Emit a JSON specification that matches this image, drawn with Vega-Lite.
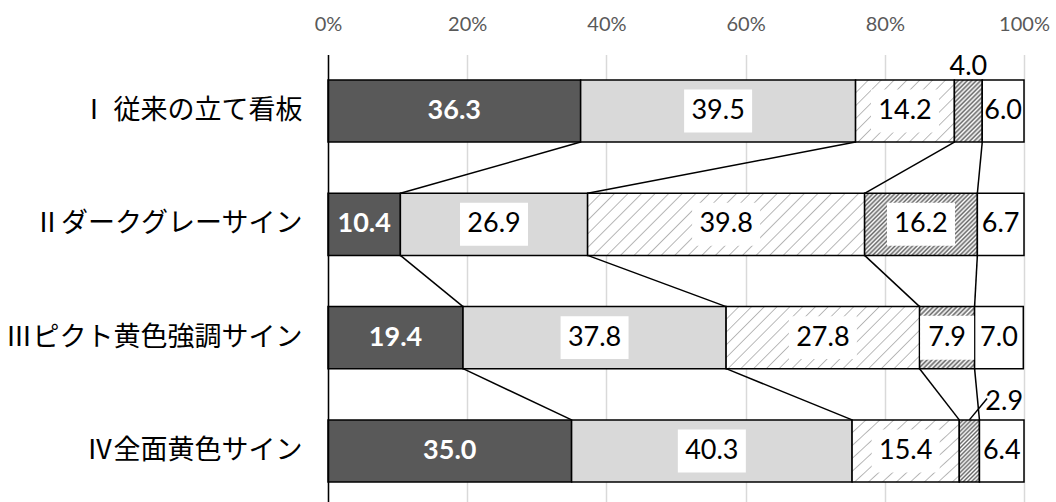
{
  "$schema": "https://vega.github.io/schema/vega-lite/v6.json",
  "width": 696,
  "height": 447.6,
  "autosize": {"type": "none"},
  "padding": {"left": 328, "top": 54.4, "right": 32, "bottom": 0},
  "background": "white",
  "config": {"view": {"stroke": null}},
  "data": {
    "values": [
      {"cat": "Ⅰ 従来の立て看板", "level": 1, "v": 36.3},
      {"cat": "Ⅰ 従来の立て看板", "level": 2, "v": 39.5},
      {"cat": "Ⅰ 従来の立て看板", "level": 3, "v": 14.2},
      {"cat": "Ⅰ 従来の立て看板", "level": 4, "v": 4.0},
      {"cat": "Ⅰ 従来の立て看板", "level": 5, "v": 6.0},
      {"cat": "Ⅱダークグレーサイン", "level": 1, "v": 10.4},
      {"cat": "Ⅱダークグレーサイン", "level": 2, "v": 26.9},
      {"cat": "Ⅱダークグレーサイン", "level": 3, "v": 39.8},
      {"cat": "Ⅱダークグレーサイン", "level": 4, "v": 16.2},
      {"cat": "Ⅱダークグレーサイン", "level": 5, "v": 6.7},
      {"cat": "Ⅲピクト黄色強調サイン", "level": 1, "v": 19.4},
      {"cat": "Ⅲピクト黄色強調サイン", "level": 2, "v": 37.8},
      {"cat": "Ⅲピクト黄色強調サイン", "level": 3, "v": 27.8},
      {"cat": "Ⅲピクト黄色強調サイン", "level": 4, "v": 7.9},
      {"cat": "Ⅲピクト黄色強調サイン", "level": 5, "v": 7.0},
      {"cat": "Ⅳ全面黄色サイン", "level": 1, "v": 35.0},
      {"cat": "Ⅳ全面黄色サイン", "level": 2, "v": 40.3},
      {"cat": "Ⅳ全面黄色サイン", "level": 3, "v": 15.4},
      {"cat": "Ⅳ全面黄色サイン", "level": 4, "v": 2.9},
      {"cat": "Ⅳ全面黄色サイン", "level": 5, "v": 6.4}
    ]
  },
  "transform": [
    {"stack": "v", "groupby": ["cat"], "sort": [{"field": "level", "order": "ascending"}], "as": ["x0", "x1"]},
    {"calculate": "(datum.x0 + datum.x1) / 2", "as": "mid"}
  ],
  "layer": [
    {
      "mark": {"type": "bar", "stroke": "black", "strokeWidth": 1.5},
      "encoding": {
        "y": {
          "field": "cat",
          "type": "nominal",
          "scale": {
            "domain": ["Ⅰ 従来の立て看板", "Ⅱダークグレーサイン", "Ⅲピクト黄色強調サイン", "Ⅳ全面黄色サイン"],
            "paddingInner": 0.452,
            "paddingOuter": 0.2014,
            "align": 0.561
          },
          "axis": {
            "title": null,
            "ticks": false,
            "grid": false,
            "domain": true,
            "domainColor": "black",
            "domainWidth": 1.5,
            "labelFont": "Noto Sans CJK JP",
            "labelFontSize": 27,
            "labelColor": "black",
            "labelPadding": 26,
            "labelLimit": 0,
            "zindex": 1
          }
        },
        "x": {
          "field": "x0",
          "type": "quantitative",
          "scale": {"domain": [0, 100], "nice": false},
          "axis": {
            "orient": "top",
            "title": null,
            "values": [0, 20, 40, 60, 80, 100],
            "labelExpr": "datum.value + '%'",
            "domain": false,
            "ticks": false,
            "grid": true,
            "gridColor": "#d9d9d9",
            "gridWidth": 1.5,
            "labelFont": "Lato",
            "labelFontSize": 20,
            "labelColor": "#595959",
            "labelPadding": 20,
            "labelFlush": false,
            "labelOverlap": false
          }
        },
        "x2": {"field": "x1"},
        "fill": {
          "condition": [
            {"test": "datum.level === 1", "value": "#595959"},
            {"test": "datum.level === 2", "value": "#d9d9d9"},
            {"test": "datum.level === 3 && (datum.cat === 'Ⅰ 従来の立て看板' || datum.cat === 'Ⅳ全面黄色サイン')",
             "value": {"gradient": "linear", "x1": 0, "y1": 0, "x2": 1.1677, "y2": 0.7328, "stops": [
              {"offset": 0, "color": "#b4b4b4"}, {"offset": 0.008, "color": "#fff"}, {"offset": 0.072, "color": "#fff"},
              {"offset": 0.08, "color": "#b4b4b4"}, {"offset": 0.088, "color": "#fff"}, {"offset": 0.152, "color": "#fff"},
              {"offset": 0.16, "color": "#b4b4b4"}, {"offset": 0.168, "color": "#fff"}, {"offset": 0.232, "color": "#fff"},
              {"offset": 0.24, "color": "#b4b4b4"}, {"offset": 0.248, "color": "#fff"}, {"offset": 0.312, "color": "#fff"},
              {"offset": 0.32, "color": "#b4b4b4"}, {"offset": 0.328, "color": "#fff"}, {"offset": 0.392, "color": "#fff"},
              {"offset": 0.4, "color": "#b4b4b4"}, {"offset": 0.408, "color": "#fff"}, {"offset": 0.472, "color": "#fff"},
              {"offset": 0.48, "color": "#b4b4b4"}, {"offset": 0.488, "color": "#fff"}, {"offset": 0.552, "color": "#fff"},
              {"offset": 0.56, "color": "#b4b4b4"}, {"offset": 0.568, "color": "#fff"}, {"offset": 0.632, "color": "#fff"},
              {"offset": 0.64, "color": "#b4b4b4"}, {"offset": 0.648, "color": "#fff"}, {"offset": 0.712, "color": "#fff"},
              {"offset": 0.72, "color": "#b4b4b4"}, {"offset": 0.728, "color": "#fff"}, {"offset": 0.792, "color": "#fff"},
              {"offset": 0.8, "color": "#b4b4b4"}, {"offset": 0.808, "color": "#fff"}, {"offset": 0.872, "color": "#fff"},
              {"offset": 0.88, "color": "#b4b4b4"}, {"offset": 0.888, "color": "#fff"}, {"offset": 0.952, "color": "#fff"},
              {"offset": 0.96, "color": "#b4b4b4"}, {"offset": 0.968, "color": "#fff"}, {"offset": 1, "color": "#fff"}]}},
            {"test": "datum.level === 3 && datum.cat === 'Ⅱダークグレーサイン'",
             "value": {"gradient": "linear", "x1": 0, "y1": 0, "x2": 1.1654, "y2": 0.2609, "stops": [
              {"offset": 0, "color": "#b4b4b4"}, {"offset": 0.004, "color": "#fff"}, {"offset": 0.036, "color": "#fff"},
              {"offset": 0.04, "color": "#b4b4b4"}, {"offset": 0.044, "color": "#fff"}, {"offset": 0.076, "color": "#fff"},
              {"offset": 0.08, "color": "#b4b4b4"}, {"offset": 0.084, "color": "#fff"}, {"offset": 0.116, "color": "#fff"},
              {"offset": 0.12, "color": "#b4b4b4"}, {"offset": 0.124, "color": "#fff"}, {"offset": 0.156, "color": "#fff"},
              {"offset": 0.16, "color": "#b4b4b4"}, {"offset": 0.164, "color": "#fff"}, {"offset": 0.196, "color": "#fff"},
              {"offset": 0.2, "color": "#b4b4b4"}, {"offset": 0.204, "color": "#fff"}, {"offset": 0.236, "color": "#fff"},
              {"offset": 0.24, "color": "#b4b4b4"}, {"offset": 0.244, "color": "#fff"}, {"offset": 0.276, "color": "#fff"},
              {"offset": 0.28, "color": "#b4b4b4"}, {"offset": 0.284, "color": "#fff"}, {"offset": 0.316, "color": "#fff"},
              {"offset": 0.32, "color": "#b4b4b4"}, {"offset": 0.324, "color": "#fff"}, {"offset": 0.356, "color": "#fff"},
              {"offset": 0.36, "color": "#b4b4b4"}, {"offset": 0.364, "color": "#fff"}, {"offset": 0.396, "color": "#fff"},
              {"offset": 0.4, "color": "#b4b4b4"}, {"offset": 0.404, "color": "#fff"}, {"offset": 0.436, "color": "#fff"},
              {"offset": 0.44, "color": "#b4b4b4"}, {"offset": 0.444, "color": "#fff"}, {"offset": 0.476, "color": "#fff"},
              {"offset": 0.48, "color": "#b4b4b4"}, {"offset": 0.484, "color": "#fff"}, {"offset": 0.516, "color": "#fff"},
              {"offset": 0.52, "color": "#b4b4b4"}, {"offset": 0.524, "color": "#fff"}, {"offset": 0.556, "color": "#fff"},
              {"offset": 0.56, "color": "#b4b4b4"}, {"offset": 0.564, "color": "#fff"}, {"offset": 0.596, "color": "#fff"},
              {"offset": 0.6, "color": "#b4b4b4"}, {"offset": 0.604, "color": "#fff"}, {"offset": 0.636, "color": "#fff"},
              {"offset": 0.64, "color": "#b4b4b4"}, {"offset": 0.644, "color": "#fff"}, {"offset": 0.676, "color": "#fff"},
              {"offset": 0.68, "color": "#b4b4b4"}, {"offset": 0.684, "color": "#fff"}, {"offset": 0.716, "color": "#fff"},
              {"offset": 0.72, "color": "#b4b4b4"}, {"offset": 0.724, "color": "#fff"}, {"offset": 0.756, "color": "#fff"},
              {"offset": 0.76, "color": "#b4b4b4"}, {"offset": 0.764, "color": "#fff"}, {"offset": 0.796, "color": "#fff"},
              {"offset": 0.8, "color": "#b4b4b4"}, {"offset": 0.804, "color": "#fff"}, {"offset": 0.836, "color": "#fff"},
              {"offset": 0.84, "color": "#b4b4b4"}, {"offset": 0.844, "color": "#fff"}, {"offset": 0.876, "color": "#fff"},
              {"offset": 0.88, "color": "#b4b4b4"}, {"offset": 0.884, "color": "#fff"}, {"offset": 0.916, "color": "#fff"},
              {"offset": 0.92, "color": "#b4b4b4"}, {"offset": 0.924, "color": "#fff"}, {"offset": 0.956, "color": "#fff"},
              {"offset": 0.96, "color": "#b4b4b4"}, {"offset": 0.964, "color": "#fff"}, {"offset": 0.996, "color": "#fff"},
              {"offset": 1, "color": "#b4b4b4"}]}},
            {"test": "datum.level === 3 && datum.cat === 'Ⅲピクト黄色強調サイン'",
             "value": {"gradient": "linear", "x1": 0, "y1": 0, "x2": 1.1975, "y2": 0.3837, "stops": [
              {"offset": 0, "color": "#b4b4b4"}, {"offset": 0.005, "color": "#fff"}, {"offset": 0.045, "color": "#fff"},
              {"offset": 0.05, "color": "#b4b4b4"}, {"offset": 0.055, "color": "#fff"}, {"offset": 0.095, "color": "#fff"},
              {"offset": 0.1, "color": "#b4b4b4"}, {"offset": 0.105, "color": "#fff"}, {"offset": 0.145, "color": "#fff"},
              {"offset": 0.15, "color": "#b4b4b4"}, {"offset": 0.155, "color": "#fff"}, {"offset": 0.195, "color": "#fff"},
              {"offset": 0.2, "color": "#b4b4b4"}, {"offset": 0.205, "color": "#fff"}, {"offset": 0.245, "color": "#fff"},
              {"offset": 0.25, "color": "#b4b4b4"}, {"offset": 0.255, "color": "#fff"}, {"offset": 0.295, "color": "#fff"},
              {"offset": 0.3, "color": "#b4b4b4"}, {"offset": 0.305, "color": "#fff"}, {"offset": 0.345, "color": "#fff"},
              {"offset": 0.35, "color": "#b4b4b4"}, {"offset": 0.355, "color": "#fff"}, {"offset": 0.395, "color": "#fff"},
              {"offset": 0.4, "color": "#b4b4b4"}, {"offset": 0.405, "color": "#fff"}, {"offset": 0.445, "color": "#fff"},
              {"offset": 0.45, "color": "#b4b4b4"}, {"offset": 0.455, "color": "#fff"}, {"offset": 0.495, "color": "#fff"},
              {"offset": 0.5, "color": "#b4b4b4"}, {"offset": 0.505, "color": "#fff"}, {"offset": 0.545, "color": "#fff"},
              {"offset": 0.55, "color": "#b4b4b4"}, {"offset": 0.555, "color": "#fff"}, {"offset": 0.595, "color": "#fff"},
              {"offset": 0.6, "color": "#b4b4b4"}, {"offset": 0.605, "color": "#fff"}, {"offset": 0.645, "color": "#fff"},
              {"offset": 0.65, "color": "#b4b4b4"}, {"offset": 0.655, "color": "#fff"}, {"offset": 0.695, "color": "#fff"},
              {"offset": 0.7, "color": "#b4b4b4"}, {"offset": 0.705, "color": "#fff"}, {"offset": 0.745, "color": "#fff"},
              {"offset": 0.75, "color": "#b4b4b4"}, {"offset": 0.755, "color": "#fff"}, {"offset": 0.795, "color": "#fff"},
              {"offset": 0.8, "color": "#b4b4b4"}, {"offset": 0.805, "color": "#fff"}, {"offset": 0.845, "color": "#fff"},
              {"offset": 0.85, "color": "#b4b4b4"}, {"offset": 0.855, "color": "#fff"}, {"offset": 0.895, "color": "#fff"},
              {"offset": 0.9, "color": "#b4b4b4"}, {"offset": 0.905, "color": "#fff"}, {"offset": 0.945, "color": "#fff"},
              {"offset": 0.95, "color": "#b4b4b4"}, {"offset": 0.955, "color": "#fff"}, {"offset": 0.995, "color": "#fff"},
              {"offset": 1, "color": "#b4b4b4"}]}},
            {"test": "datum.level === 4 && datum.cat === 'Ⅰ 従来の立て看板'",
             "value": {"gradient": "linear", "x1": 0, "y1": 0, "x2": 0.5407, "y2": 1.2059, "stops": [
              {"offset": 0, "color": "#666"}, {"offset": 0.025, "color": "#fff"}, {"offset": 0.05, "color": "#666"}, {"offset": 0.075, "color": "#fff"},
              {"offset": 0.1, "color": "#666"}, {"offset": 0.125, "color": "#fff"}, {"offset": 0.15, "color": "#666"}, {"offset": 0.175, "color": "#fff"},
              {"offset": 0.2, "color": "#666"}, {"offset": 0.225, "color": "#fff"}, {"offset": 0.25, "color": "#666"}, {"offset": 0.275, "color": "#fff"},
              {"offset": 0.3, "color": "#666"}, {"offset": 0.325, "color": "#fff"}, {"offset": 0.35, "color": "#666"}, {"offset": 0.375, "color": "#fff"},
              {"offset": 0.4, "color": "#666"}, {"offset": 0.425, "color": "#fff"}, {"offset": 0.45, "color": "#666"}, {"offset": 0.475, "color": "#fff"},
              {"offset": 0.5, "color": "#666"}, {"offset": 0.525, "color": "#fff"}, {"offset": 0.55, "color": "#666"}, {"offset": 0.575, "color": "#fff"},
              {"offset": 0.6, "color": "#666"}, {"offset": 0.625, "color": "#fff"}, {"offset": 0.65, "color": "#666"}, {"offset": 0.675, "color": "#fff"},
              {"offset": 0.7, "color": "#666"}, {"offset": 0.725, "color": "#fff"}, {"offset": 0.75, "color": "#666"}, {"offset": 0.775, "color": "#fff"},
              {"offset": 0.8, "color": "#666"}, {"offset": 0.825, "color": "#fff"}, {"offset": 0.85, "color": "#666"}, {"offset": 0.875, "color": "#fff"},
              {"offset": 0.9, "color": "#666"}, {"offset": 0.925, "color": "#fff"}, {"offset": 0.95, "color": "#666"}, {"offset": 0.975, "color": "#fff"},
              {"offset": 1, "color": "#666"}]}},
            {"test": "datum.level === 4 && datum.cat === 'Ⅳ全面黄色サイン'",
             "value": {"gradient": "linear", "x1": 0, "y1": 0, "x2": 0.3905, "y2": 1.1986, "stops": [
              {"offset": 0, "color": "#666"}, {"offset": 0.025, "color": "#fff"}, {"offset": 0.05, "color": "#666"}, {"offset": 0.075, "color": "#fff"},
              {"offset": 0.1, "color": "#666"}, {"offset": 0.125, "color": "#fff"}, {"offset": 0.15, "color": "#666"}, {"offset": 0.175, "color": "#fff"},
              {"offset": 0.2, "color": "#666"}, {"offset": 0.225, "color": "#fff"}, {"offset": 0.25, "color": "#666"}, {"offset": 0.275, "color": "#fff"},
              {"offset": 0.3, "color": "#666"}, {"offset": 0.325, "color": "#fff"}, {"offset": 0.35, "color": "#666"}, {"offset": 0.375, "color": "#fff"},
              {"offset": 0.4, "color": "#666"}, {"offset": 0.425, "color": "#fff"}, {"offset": 0.45, "color": "#666"}, {"offset": 0.475, "color": "#fff"},
              {"offset": 0.5, "color": "#666"}, {"offset": 0.525, "color": "#fff"}, {"offset": 0.55, "color": "#666"}, {"offset": 0.575, "color": "#fff"},
              {"offset": 0.6, "color": "#666"}, {"offset": 0.625, "color": "#fff"}, {"offset": 0.65, "color": "#666"}, {"offset": 0.675, "color": "#fff"},
              {"offset": 0.7, "color": "#666"}, {"offset": 0.725, "color": "#fff"}, {"offset": 0.75, "color": "#666"}, {"offset": 0.775, "color": "#fff"},
              {"offset": 0.8, "color": "#666"}, {"offset": 0.825, "color": "#fff"}, {"offset": 0.85, "color": "#666"}, {"offset": 0.875, "color": "#fff"},
              {"offset": 0.9, "color": "#666"}, {"offset": 0.925, "color": "#fff"}, {"offset": 0.95, "color": "#666"}, {"offset": 0.975, "color": "#fff"},
              {"offset": 1, "color": "#666"}]}},
            {"test": "datum.level === 4 && datum.cat === 'Ⅱダークグレーサイン'",
             "value": {"gradient": "linear", "x1": 0, "y1": 0, "x2": 1.1901, "y2": 0.6541, "stops": [
              {"offset": 0, "color": "#666"}, {"offset": 0.0125, "color": "#fff"}, {"offset": 0.025, "color": "#666"}, {"offset": 0.0375, "color": "#fff"},
              {"offset": 0.05, "color": "#666"}, {"offset": 0.0625, "color": "#fff"}, {"offset": 0.075, "color": "#666"}, {"offset": 0.0875, "color": "#fff"},
              {"offset": 0.1, "color": "#666"}, {"offset": 0.1125, "color": "#fff"}, {"offset": 0.125, "color": "#666"}, {"offset": 0.1375, "color": "#fff"},
              {"offset": 0.15, "color": "#666"}, {"offset": 0.1625, "color": "#fff"}, {"offset": 0.175, "color": "#666"}, {"offset": 0.1875, "color": "#fff"},
              {"offset": 0.2, "color": "#666"}, {"offset": 0.2125, "color": "#fff"}, {"offset": 0.225, "color": "#666"}, {"offset": 0.2375, "color": "#fff"},
              {"offset": 0.25, "color": "#666"}, {"offset": 0.2625, "color": "#fff"}, {"offset": 0.275, "color": "#666"}, {"offset": 0.2875, "color": "#fff"},
              {"offset": 0.3, "color": "#666"}, {"offset": 0.3125, "color": "#fff"}, {"offset": 0.325, "color": "#666"}, {"offset": 0.3375, "color": "#fff"},
              {"offset": 0.35, "color": "#666"}, {"offset": 0.3625, "color": "#fff"}, {"offset": 0.375, "color": "#666"}, {"offset": 0.3875, "color": "#fff"},
              {"offset": 0.4, "color": "#666"}, {"offset": 0.4125, "color": "#fff"}, {"offset": 0.425, "color": "#666"}, {"offset": 0.4375, "color": "#fff"},
              {"offset": 0.45, "color": "#666"}, {"offset": 0.4625, "color": "#fff"}, {"offset": 0.475, "color": "#666"}, {"offset": 0.4875, "color": "#fff"},
              {"offset": 0.5, "color": "#666"}, {"offset": 0.5125, "color": "#fff"}, {"offset": 0.525, "color": "#666"}, {"offset": 0.5375, "color": "#fff"},
              {"offset": 0.55, "color": "#666"}, {"offset": 0.5625, "color": "#fff"}, {"offset": 0.575, "color": "#666"}, {"offset": 0.5875, "color": "#fff"},
              {"offset": 0.6, "color": "#666"}, {"offset": 0.6125, "color": "#fff"}, {"offset": 0.625, "color": "#666"}, {"offset": 0.6375, "color": "#fff"},
              {"offset": 0.65, "color": "#666"}, {"offset": 0.6625, "color": "#fff"}, {"offset": 0.675, "color": "#666"}, {"offset": 0.6875, "color": "#fff"},
              {"offset": 0.7, "color": "#666"}, {"offset": 0.7125, "color": "#fff"}, {"offset": 0.725, "color": "#666"}, {"offset": 0.7375, "color": "#fff"},
              {"offset": 0.75, "color": "#666"}, {"offset": 0.7625, "color": "#fff"}, {"offset": 0.775, "color": "#666"}, {"offset": 0.7875, "color": "#fff"},
              {"offset": 0.8, "color": "#666"}, {"offset": 0.8125, "color": "#fff"}, {"offset": 0.825, "color": "#666"}, {"offset": 0.8375, "color": "#fff"},
              {"offset": 0.85, "color": "#666"}, {"offset": 0.8625, "color": "#fff"}, {"offset": 0.875, "color": "#666"}, {"offset": 0.8875, "color": "#fff"},
              {"offset": 0.9, "color": "#666"}, {"offset": 0.9125, "color": "#fff"}, {"offset": 0.925, "color": "#666"}, {"offset": 0.9375, "color": "#fff"},
              {"offset": 0.95, "color": "#666"}, {"offset": 0.9625, "color": "#fff"}, {"offset": 0.975, "color": "#666"}, {"offset": 0.9875, "color": "#fff"},
              {"offset": 1, "color": "#666"}]}},
            {"test": "datum.level === 4 && datum.cat === 'Ⅲピクト黄色強調サイン'",
             "value": {"gradient": "linear", "x1": 0, "y1": 0, "x2": 0.9368, "y2": 1.056, "stops": [
              {"offset": 0, "color": "#666"}, {"offset": 0.02, "color": "#fff"}, {"offset": 0.04, "color": "#666"}, {"offset": 0.06, "color": "#fff"},
              {"offset": 0.08, "color": "#666"}, {"offset": 0.1, "color": "#fff"}, {"offset": 0.12, "color": "#666"}, {"offset": 0.14, "color": "#fff"},
              {"offset": 0.16, "color": "#666"}, {"offset": 0.18, "color": "#fff"}, {"offset": 0.2, "color": "#666"}, {"offset": 0.22, "color": "#fff"},
              {"offset": 0.24, "color": "#666"}, {"offset": 0.26, "color": "#fff"}, {"offset": 0.28, "color": "#666"}, {"offset": 0.3, "color": "#fff"},
              {"offset": 0.32, "color": "#666"}, {"offset": 0.34, "color": "#fff"}, {"offset": 0.36, "color": "#666"}, {"offset": 0.38, "color": "#fff"},
              {"offset": 0.4, "color": "#666"}, {"offset": 0.42, "color": "#fff"}, {"offset": 0.44, "color": "#666"}, {"offset": 0.46, "color": "#fff"},
              {"offset": 0.48, "color": "#666"}, {"offset": 0.5, "color": "#fff"}, {"offset": 0.52, "color": "#666"}, {"offset": 0.54, "color": "#fff"},
              {"offset": 0.56, "color": "#666"}, {"offset": 0.58, "color": "#fff"}, {"offset": 0.6, "color": "#666"}, {"offset": 0.62, "color": "#fff"},
              {"offset": 0.64, "color": "#666"}, {"offset": 0.66, "color": "#fff"}, {"offset": 0.68, "color": "#666"}, {"offset": 0.7, "color": "#fff"},
              {"offset": 0.72, "color": "#666"}, {"offset": 0.74, "color": "#fff"}, {"offset": 0.76, "color": "#666"}, {"offset": 0.78, "color": "#fff"},
              {"offset": 0.8, "color": "#666"}, {"offset": 0.82, "color": "#fff"}, {"offset": 0.84, "color": "#666"}, {"offset": 0.86, "color": "#fff"},
              {"offset": 0.88, "color": "#666"}, {"offset": 0.9, "color": "#fff"}, {"offset": 0.92, "color": "#666"}, {"offset": 0.94, "color": "#fff"},
              {"offset": 0.96, "color": "#666"}, {"offset": 0.98, "color": "#fff"}, {"offset": 1, "color": "#666"}]}}
          ],
          "value": "white"
        }
      }
    },
    {
      "transform": [
        {"window": [{"op": "lead", "field": "x1", "as": "nx"}, {"op": "lead", "field": "cat", "as": "ncat"}], "groupby": ["level"], "sort": [{"field": "cat", "order": "ascending"}]},
        {"filter": "datum.level < 5 && datum.ncat != null"}
      ],
      "mark": {"type": "rule", "stroke": "black", "strokeWidth": 1.5},
      "encoding": {
        "y": {"field": "cat", "type": "nominal", "bandPosition": 1},
        "y2": {"field": "ncat", "bandPosition": 0},
        "x": {"field": "x1", "type": "quantitative"},
        "x2": {"field": "nx"}
      }
    },
    {
      "transform": [
        {"filter": "datum.level === 4 && datum.v < 3.5"},
        {"calculate": "datum.mid + 2.55", "as": "lx"}
      ],
      "mark": {"type": "rule", "stroke": "black", "strokeWidth": 1.5},
      "encoding": {
        "y": {"field": "cat", "type": "nominal", "bandPosition": 0},
        "y2": {"field": "cat", "bandPosition": -0.345},
        "x": {"field": "mid", "type": "quantitative"},
        "x2": {"field": "lx"}
      }
    },
    {
      "transform": [
        {"filter": "datum.level === 2 || datum.level === 3 || (datum.level === 4 && datum.v > 5)"}
      ],
      "mark": {"type": "point", "filled": true, "color": "white", "opacity": 1, "strokeWidth": 0},
      "encoding": {
        "y": {"field": "cat", "type": "nominal"},
        "x": {"field": "mid", "type": "quantitative"},
        "shape": {"condition": {"test": "datum.v < 10", "value": "M-1,-0.815H1V0.815H-1Z"}, "value": "M-1,-0.632H1V0.632H-1Z"},
        "size": {"condition": {"test": "datum.v < 10", "value": 2916}, "value": 4624}
      }
    },
    {
      "transform": [{"filter": "datum.level === 1"}],
      "mark": {"type": "text", "font": "Lato", "fontSize": 27, "fontWeight": "bold", "color": "white", "baseline": "middle"},
      "encoding": {
        "y": {"field": "cat", "type": "nominal"},
        "x": {"field": "mid", "type": "quantitative"},
        "text": {"field": "v", "type": "quantitative", "format": ".1f"}
      }
    },
    {
      "transform": [{"filter": "datum.level > 1 && !(datum.level === 4 && datum.v < 5)"}],
      "mark": {"type": "text", "font": "Lato", "fontSize": 27, "color": "black", "baseline": "middle"},
      "encoding": {
        "y": {"field": "cat", "type": "nominal"},
        "x": {"field": "mid", "type": "quantitative"},
        "text": {"field": "v", "type": "quantitative", "format": ".1f"}
      }
    },
    {
      "transform": [{"filter": "datum.level === 4 && datum.v >= 3.5 && datum.v < 5"}],
      "mark": {"type": "text", "font": "Lato", "fontSize": 27, "color": "black", "baseline": "middle", "dy": -13},
      "encoding": {
        "y": {"field": "cat", "type": "nominal", "bandPosition": 0},
        "x": {"field": "mid", "type": "quantitative"},
        "text": {"field": "v", "type": "quantitative", "format": ".1f"}
      }
    },
    {
      "transform": [{"filter": "datum.level === 4 && datum.v < 3.5"}],
      "mark": {"type": "text", "font": "Lato", "fontSize": 27, "color": "black", "baseline": "middle", "align": "left", "dx": 16, "dy": -18},
      "encoding": {
        "y": {"field": "cat", "type": "nominal", "bandPosition": 0},
        "x": {"field": "mid", "type": "quantitative"},
        "text": {"field": "v", "type": "quantitative", "format": ".1f"}
      }
    }
  ]
}
